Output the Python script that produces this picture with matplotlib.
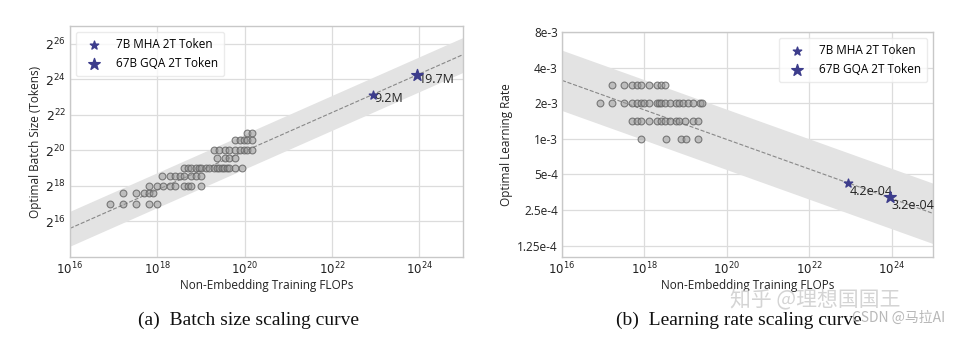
import numpy as np
import matplotlib
matplotlib.use("Agg")
import matplotlib.pyplot as plt
from matplotlib.ticker import FixedLocator, FixedFormatter

plt.rcParams['font.family'] = ['Open Sans', 'DejaVu Sans']

# grid-search points, batch size (log10 FLOPs, log2 tokens)
bs_flops = [16.92, 17.21, 17.52, 17.81, 18.0,
            17.21, 17.52, 17.69, 17.81, 17.91,
            17.81, 18.0, 18.12, 18.29, 18.40, 18.60, 18.71, 18.77, 19.01,
            18.11, 18.29, 18.40, 18.51, 18.60, 18.77, 18.89, 19.01,
            18.60, 18.71, 18.77, 18.89, 18.95, 19.01, 19.12, 19.18, 19.30, 19.36,
            19.41, 19.47, 19.53, 19.59, 19.65, 19.77, 19.95,
            19.37, 19.56, 19.65, 19.77,
            19.30, 19.41, 19.56, 19.65, 19.77, 19.90, 19.99, 20.06, 20.17,
            19.78, 19.90, 19.99, 20.06, 20.17,
            20.06, 20.17]
bs_log2 = [17.0] * 5 + [17.58] * 5 + [18.0] * 9 + [18.58] * 8 + [19.0] * 17 \
    + [19.58] * 4 + [20.0] * 9 + [20.58] * 5 + [21.0] * 2

# grid-search points, learning rate (log10 FLOPs, lr)
lr_flops = [17.22, 17.51, 17.70, 17.82, 17.91, 18.12, 18.30, 18.41, 18.50,
            16.92, 17.22, 17.51, 17.70, 17.82, 17.91, 18.00, 18.12, 18.30, 18.36,
            18.41, 18.50, 18.62, 18.77, 18.85, 18.94, 19.06, 19.18, 19.34, 19.39,
            17.70, 17.82, 17.91, 18.12, 18.30, 18.41, 18.50, 18.62, 18.77, 18.85,
            18.99, 19.18, 19.30,
            17.91, 18.52, 18.89, 19.00, 19.31]
lr_vals = [2.85e-3] * 9 + [2e-3] * 20 + [1.4e-3] * 13 + [1e-3] * 5

# fitted curves
bs_coef, bs_exp = 0.2920, 0.3271
lr_coef, lr_exp = 0.3118, -0.1250

models = ['7B MHA 2T Token', '67B GQA 2T Token']
model_flops = [8.6e22, 8.9e23]
model_bs = [9.2e6, 19.7e6]
model_bs_labels = ['9.2M', '19.7M']
model_lr = [4.2e-4, 3.2e-4]
model_lr_labels = ['4.2e-04', '3.2e-04']

star_color = '#3d3d8c'
pt_face = (0.6, 0.6, 0.6, 0.5)
pt_edge = (0.38, 0.38, 0.38, 0.8)
band_color = '#e3e3e3'
grid_color = '#dcdcdc'
fs = 8.5

fig = plt.figure(figsize=(9.61, 3.37), dpi=100)
ax1 = fig.add_axes([0.0728, 0.2374, 0.409, 0.6855])
ax2 = fig.add_axes([0.5848, 0.2374, 0.386, 0.6677])

C = np.logspace(16, 25, 200)


def style(ax):
    ax.set_xscale('log')
    ax.set_xlim(1e16, 1e25)
    ax.set_xticks([1e16, 1e18, 1e20, 1e22, 1e24])
    ax.set_xticklabels([r'$10^{16}$', r'$10^{18}$', r'$10^{20}$', r'$10^{22}$', r'$10^{24}$'])
    ax.minorticks_off()
    ax.grid(True, color=grid_color, lw=0.9)
    ax.set_axisbelow(True)
    for s in ax.spines.values():
        s.set_color('#c8c8c8')
        s.set_linewidth(1.0)
    ax.tick_params(length=0, labelsize=fs, colors='#222222', pad=3)
    ax.set_xlabel('Non-Embedding Training FLOPs', fontsize=fs, labelpad=1, color='#222222')


# (a) batch size
style(ax1)
bs_fit = bs_coef * C ** bs_exp
ax1.fill_between(C, bs_fit / 2.0, bs_fit * 1.95, color=band_color, lw=0, zorder=1)
ax1.plot(C, bs_fit, ls='--', color='#888888', lw=0.8, zorder=2)
ax1.scatter(10 ** np.array(bs_flops), 2 ** np.array(bs_log2), s=24,
            facecolor=pt_face, edgecolor=pt_edge, lw=0.8, zorder=3)
ax1.scatter(model_flops[0], model_bs[0], marker='*', s=40, color=star_color, zorder=4, label=models[0])
ax1.scatter(model_flops[1], model_bs[1], marker='*', s=75, color=star_color, zorder=4, label=models[1])
for f, b, t in zip(model_flops, model_bs, model_bs_labels):
    ax1.annotate(t, (f, b), xytext=(1, -3), textcoords='offset points', fontsize=fs + 0.5,
                 va='center', ha='left', color='#222222')
ax1.set_yscale('log', base=2)
ax1.set_ylim(2 ** 14, 2 ** 27)
yt = [2 ** k for k in range(16, 27, 2)]
ax1.yaxis.set_major_locator(FixedLocator(yt))
ax1.yaxis.set_major_formatter(FixedFormatter([r'$2^{%d}$' % k for k in range(16, 27, 2)]))
ax1.yaxis.set_minor_locator(FixedLocator([]))
ax1.tick_params(axis='y', labelsize=9)
ax1.set_ylabel('Optimal Batch Size (Tokens)', fontsize=fs, labelpad=2, color='#222222')
ax1.legend(loc='upper left', fontsize=fs, frameon=True, edgecolor='#e6e6e6',
           borderpad=0.5, handletextpad=0.9, labelspacing=0.55, borderaxespad=0.5)

# (b) learning rate
style(ax2)
lr_fit = lr_coef * C ** lr_exp
ax2.fill_between(C, lr_fit / 1.8, lr_fit * 1.8, color=band_color, lw=0, zorder=1)
ax2.plot(C, lr_fit, ls='--', color='#888888', lw=0.8, zorder=2)
ax2.scatter(10 ** np.array(lr_flops), lr_vals, s=24,
            facecolor=pt_face, edgecolor=pt_edge, lw=0.8, zorder=3)
ax2.scatter(model_flops[0], model_lr[0], marker='*', s=40, color=star_color, zorder=4, label=models[0])
ax2.scatter(model_flops[1], model_lr[1], marker='*', s=75, color=star_color, zorder=4, label=models[1])
for f, v, t in zip(model_flops, model_lr, model_lr_labels):
    ax2.annotate(t, (f, v), xytext=(1, -6), textcoords='offset points', fontsize=fs + 0.5,
                 va='center', ha='left', color='#222222')
ax2.set_yscale('log', base=2)
ax2.set_ylim(1.0e-4, 8e-3)
lr_ticks = [1.25e-4, 2.5e-4, 5e-4, 1e-3, 2e-3, 4e-3, 8e-3]
lr_tick_labels = ['1.25e-4', '2.5e-4', '5e-4', '1e-3', '2e-3', '4e-3', '8e-3']
ax2.yaxis.set_major_locator(FixedLocator(lr_ticks))
ax2.yaxis.set_major_formatter(FixedFormatter(lr_tick_labels))
ax2.yaxis.set_minor_locator(FixedLocator([]))
ax2.set_ylabel('Optimal Learning Rate', fontsize=fs, labelpad=3, color='#222222')
ax2.legend(loc='upper right', fontsize=fs, frameon=True, edgecolor='#e6e6e6',
           borderpad=0.5, handletextpad=0.9, labelspacing=0.55, borderaxespad=0.5)

# captions
fig.text(0.259, 0.05, '(a)  Batch size scaling curve', ha='center', va='center',
         fontsize=14, family='Liberation Serif', color='#111111')
fig.text(0.769, 0.05, '(b)  Learning rate scaling curve', ha='center', va='center',
         fontsize=14, family='Liberation Serif', color='#111111')

# watermarks
fig.text(0.848, 0.113, '知乎 @理想国国王', ha='center', va='center', fontsize=15,
         family=['Noto Sans CJK SC', 'DejaVu Sans'], color='#d4d4d4')
fig.text(0.935, 0.057, 'CSDN @马拉AI', ha='center', va='center', fontsize=10,
         family=['Noto Sans CJK SC', 'DejaVu Sans'], color='#b8b8b8')

fig.savefig('out.png', dpi=100)
